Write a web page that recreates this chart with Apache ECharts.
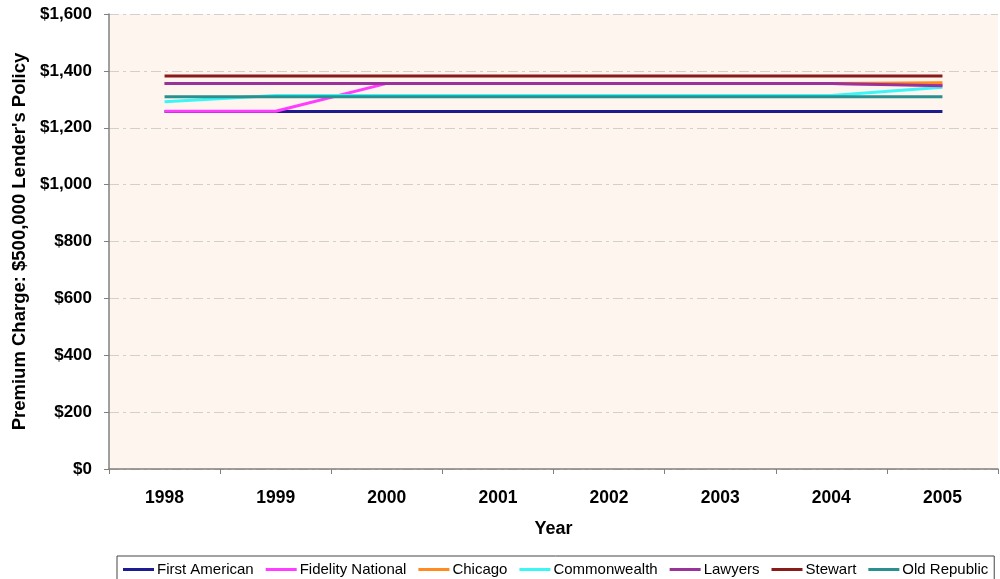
<!DOCTYPE html>
<html>
<head>
<meta charset="utf-8">
<script src="https://cdn.jsdelivr.net/npm/echarts@6/dist/echarts.min.js"></script>
<style>
  html, body { margin: 0; padding: 0; background: #fff; }
  #main { width: 1000px; height: 579px; }
</style>
</head>
<body>
<div id="main"></div>
<script>
// 年份
const years = ['1998', '1999', '2000', '2001', '2002', '2003', '2004', '2005']
// 各公司保费
const firstAmerican = [1257, 1257, 1257, 1257, 1257, 1257, 1257, 1257]
const fidelityNational = [1258, 1258, 1356, 1356, 1356, 1356, 1356, 1350]
const chicago = [1356, 1356, 1356, 1356, 1356, 1356, 1356, 1358]
const commonwealth = [1291, 1313, 1313, 1313, 1313, 1313, 1313, 1342]
const lawyers = [1356, 1356, 1356, 1356, 1356, 1356, 1356, 1348]
const stewart = [1382, 1382, 1382, 1382, 1382, 1382, 1382, 1382]
const oldRepublic = [1309, 1309, 1309, 1309, 1309, 1309, 1309, 1309]

const names = ['First American', 'Fidelity National', 'Chicago', 'Commonwealth', 'Lawyers', 'Stewart', 'Old Republic']
const colors = ['#1c1c8e', '#ff3cff', '#ff8a20', '#3cf6f6', '#993399', '#8a1a1a', '#2a8f8f']
const values = [firstAmerican, fidelityNational, chicago, commonwealth, lawyers, stewart, oldRepublic]

const font = 'Liberation Sans, Arial, sans-serif'

const myChart = echarts.init(document.getElementById('main'))
myChart.setOption({
  animation: false,
  textStyle: { fontFamily: font },
  grid: {
    left: 109, right: 2, top: 14, bottom: 110,
    outerBoundsMode: 'none',
    containLabel: false,
    show: true, backgroundColor: '#fdf5ee', borderWidth: 0
  },
  legend: {
    data: names.map(n => ({ name: n, icon: 'rect' })),
    left: 117, bottom: -8,
    itemWidth: 31, itemHeight: 3, itemGap: 12,
    padding: [6, 6, 10, 6],
    borderColor: '#444', borderWidth: 1,
    textStyle: { fontSize: 15, color: '#000', fontFamily: font, padding: [0, 0, 0, -2] }
  },
  xAxis: {
    type: 'category',
    data: years,
    boundaryGap: true,
    name: 'Year',
    nameLocation: 'middle',
    nameGap: 51,
    nameTextStyle: { fontSize: 18, fontWeight: 'bold', color: '#000' },
    axisLine: { lineStyle: { color: '#808080', width: 1.5 } },
    axisTick: { show: true, length: 5, lineStyle: { color: '#808080' } },
    axisLabel: { fontSize: 17.5, fontWeight: 'bold', color: '#000', margin: 20 },
    splitLine: { show: false }
  },
  yAxis: {
    type: 'value',
    min: 0, max: 1600, interval: 200,
    name: 'Premium Charge: $500,000 Lender\'s Policy',
    nameLocation: 'middle',
    nameGap: 80,
    nameTextStyle: { fontSize: 18.5, fontWeight: 'bold', color: '#000' },
    axisLine: { show: true, lineStyle: { color: '#808080', width: 1.5 } },
    axisTick: { show: true, length: 5, lineStyle: { color: '#808080' } },
    axisLabel: {
      fontSize: 17, fontWeight: 'bold', color: '#000', margin: 17,
      formatter: v => '$' + v.toLocaleString('en-US')
    },
    splitLine: { show: true, lineStyle: { color: '#d3cfca', width: 1, type: [10, 4, 3, 4] } }
  },
  series: names.map((n, i) => ({
    name: n,
    type: 'line',
    data: values[i],
    symbol: 'none',
    color: colors[i],
    lineStyle: { width: 3, color: colors[i] }
  }))
})
</script>
</body>
</html>
